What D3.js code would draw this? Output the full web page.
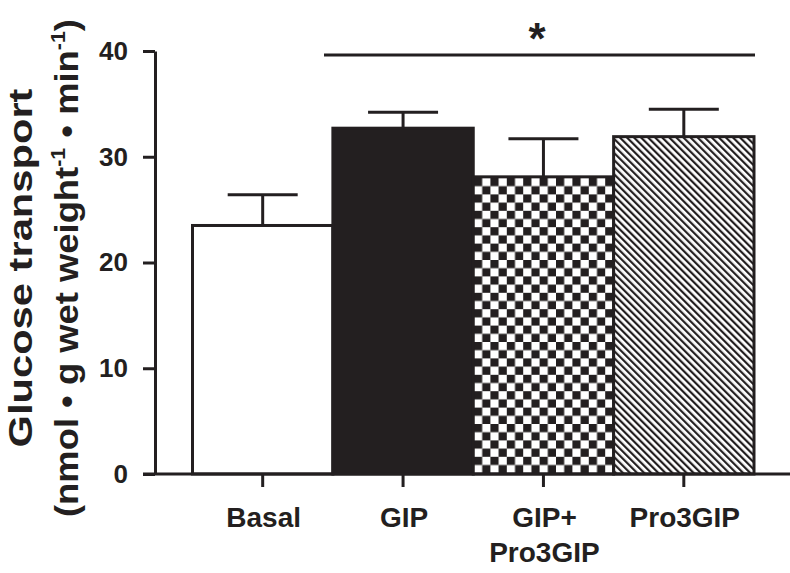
<!DOCTYPE html>
<html>
<head>
<meta charset="utf-8">
<script src="https://cdn.jsdelivr.net/npm/d3@7"></script>
<style>
  html, body { margin: 0; padding: 0; background: #fff; }
  svg { display: block; }
  text { font-family: "Liberation Sans", Arial, Helvetica, sans-serif; font-weight: bold; fill: #231f20; }
</style>
</head>
<body>
<svg id="chart" width="790" height="573"></svg>
<script>
// ---- data ----
const categories = ["Basal", "GIP", "GIP+\nPro3GIP", "Pro3GIP"];
const means = [23.5, 32.7, 28.1, 31.9];
const errors = [2.9, 1.5, 3.6, 2.6];
const fills = ["white", "solid", "checker", "hatch"];
const yTicks = [0, 10, 20, 30, 40];
const yTitle1 = "Glucose transport";
const sigLabel = "*";

const ink = "#231f20";
const svg = d3.select("#chart");

// ---- patterns ----
const defs = svg.append("defs");
const chk = defs.append("pattern").attr("id", "checker")
  .attr("patternUnits", "userSpaceOnUse").attr("width", 16.4).attr("height", 16.4)
  .attr("x", 474).attr("y", 178);
chk.append("rect").attr("width", 16.4).attr("height", 16.4).attr("fill", "#fff");
chk.append("rect").attr("width", 8.2).attr("height", 8.2).attr("fill", ink);
chk.append("rect").attr("x", 8.2).attr("y", 8.2).attr("width", 8.2).attr("height", 8.2).attr("fill", ink);

const hatch = defs.append("pattern").attr("id", "hatch")
  .attr("patternUnits", "userSpaceOnUse").attr("width", 5).attr("height", 5)
  .attr("patternTransform", "rotate(-45)");
hatch.append("rect").attr("width", 5).attr("height", 5).attr("fill", "#fff");
hatch.append("rect").attr("x", 0).attr("y", 0).attr("width", 2.2).attr("height", 5).attr("fill", ink);

const fillOf = f => f === "white" ? "#fff" : f === "solid" ? ink : f === "checker" ? "url(#checker)" : "url(#hatch)";

// ---- scales ----
const x = d3.scaleBand().domain(categories).range([192.5, 754]).paddingInner(0).paddingOuter(0);
const y = d3.scaleLinear().domain([0, 40]).range([474, 51]);

// ---- bars ----
const g = svg.append("g");
g.selectAll("rect.bar").data(categories).join("rect")
  .attr("class", "bar")
  .attr("x", d => x(d))
  .attr("width", x.bandwidth())
  .attr("y", (d, i) => y(means[i]))
  .attr("height", (d, i) => y(0) - y(means[i]))
  .attr("fill", (d, i) => fillOf(fills[i]))
  .attr("stroke", ink).attr("stroke-width", 3);

// ---- error bars ----
const capHalf = 35;
g.selectAll("line.err").data(categories).join("line")
  .attr("x1", d => x(d) + x.bandwidth() / 2).attr("x2", d => x(d) + x.bandwidth() / 2)
  .attr("y1", (d, i) => y(means[i])).attr("y2", (d, i) => y(means[i] + errors[i]))
  .attr("stroke", ink).attr("stroke-width", 3);
g.selectAll("line.cap").data(categories).join("line")
  .attr("x1", d => x(d) + x.bandwidth() / 2 - capHalf).attr("x2", d => x(d) + x.bandwidth() / 2 + capHalf)
  .attr("y1", (d, i) => y(means[i] + errors[i])).attr("y2", (d, i) => y(means[i] + errors[i]))
  .attr("stroke", ink).attr("stroke-width", 3);

// ---- y axis ----
const yAxis = svg.append("g").attr("transform", "translate(155,0)")
  .call(d3.axisLeft(y).tickValues(yTicks).tickSize(12).tickSizeOuter(0).tickPadding(15));
yAxis.select(".domain").attr("stroke", ink).attr("stroke-width", 3);
yAxis.selectAll(".tick line").attr("stroke", ink).attr("stroke-width", 3);
yAxis.selectAll(".tick text").style("font-size", "26px").attr("fill", ink);

// ---- x axis ----
const xAxis = svg.append("g").attr("transform", "translate(0,474)")
  .call(d3.axisBottom(x).tickSize(13).tickSizeOuter(0).tickFormat(""));
xAxis.select(".domain").remove();
xAxis.selectAll(".tick line").attr("stroke", ink).attr("stroke-width", 3);
svg.append("line").attr("x1", 143).attr("x2", 790).attr("y1", 474).attr("y2", 474)
  .attr("stroke", ink).attr("stroke-width", 3);

// x labels
svg.append("g").selectAll("text").data(categories).join("text")
  .attr("text-anchor", "middle")
  .style("font-size", "28px")
  .each(function (d) {
    const t = d3.select(this);
    const cx = x(d) + x.bandwidth() / 2 + 1;
    d.split("\n").forEach((line, k) => {
      t.append("tspan").attr("x", cx).attr("y", 527 + k * 35).text(line);
    });
  });

// ---- y title ----
const tt = svg.append("g").attr("transform", "translate(0,268) rotate(-90)");
tt.append("text").attr("x", 0).attr("y", 32).attr("text-anchor", "middle")
  .style("font-size", "34px").attr("textLength", 359).attr("lengthAdjust", "spacingAndGlyphs")
  .text(yTitle1);
const t2 = tt.append("text").attr("x", 0).attr("y", 78).attr("text-anchor", "middle")
  .style("font-size", "34px").attr("textLength", 498).attr("lengthAdjust", "spacingAndGlyphs");
t2.append("tspan").text("(nmol \u2022 g wet weight");
t2.append("tspan").attr("dy", -13).style("font-size", "20px").text("-1");
t2.append("tspan").attr("dy", 13).text(" \u2022 min");
t2.append("tspan").attr("dy", -13).style("font-size", "20px").text("-1");
t2.append("tspan").attr("dy", 13).text(")");

// ---- significance ----
svg.append("line").attr("x1", 324).attr("x2", 755).attr("y1", 55).attr("y2", 55)
  .attr("stroke", ink).attr("stroke-width", 3);
svg.append("text").attr("x", 537).attr("y", 54).attr("text-anchor", "middle")
  .style("font-size", "44px").text(sigLabel);
</script>
</body>
</html>
